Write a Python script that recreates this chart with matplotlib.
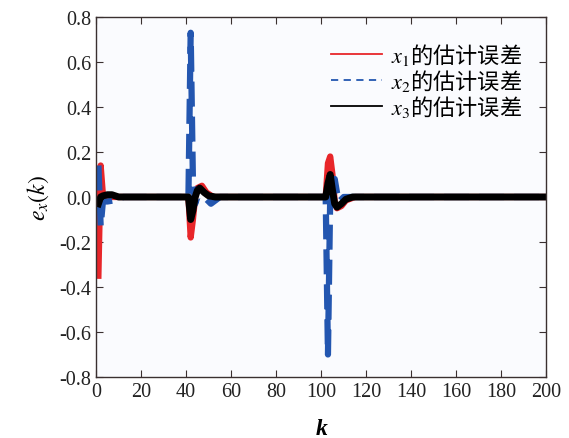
import matplotlib
matplotlib.use('Agg')
import matplotlib.pyplot as plt
from matplotlib.lines import Line2D

plt.rcParams['font.family'] = ['Liberation Serif', 'Noto Sans CJK SC']
plt.rcParams['mathtext.fontset'] = 'stix'
plt.rcParams['axes.unicode_minus'] = True

# x1 的估计误差（红）
k1 = [1, 2, 3, 4, 41, 42, 43, 44, 45, 47, 49, 52, 102, 103, 104, 105, 106, 107, 109, 111, 115, 200]
e1 = [-0.35, 0.14, 0.01, 0.0, 0.0, -0.18, -0.1, 0.0, 0.04, 0.05, 0.02, 0.0,
      0.0, 0.15, 0.18, 0.1, -0.02, -0.05, -0.04, -0.015, 0.0, 0.0]

# x2 的估计误差（蓝，虚线）
k2 = [1, 2, 3, 5, 8, 12, 41, 42, 43, 44, 45, 48, 51, 55, 102, 103, 104, 105, 106, 107, 108, 110, 200]
e2 = [0.14, -0.13, -0.02, -0.02, -0.015, 0.0, 0.0, 0.73, 0.07, -0.03, 0.0, 0.0, -0.03, 0.0,
      0.0, -0.7, 0.0, -0.02, 0.08, 0.02, -0.02, 0.0, 0.0]

# x3 的估计误差（黑）
k3 = [1, 2, 3, 5, 7, 10, 41, 42, 43, 44, 45, 46, 48, 50, 53, 102, 103, 104, 105, 106, 107, 109, 111, 114, 200]
e3 = [-0.03, 0.0, 0.005, 0.01, 0.01, 0.0, 0.0, -0.1, -0.06, 0.0, 0.03, 0.04, 0.02, 0.005, 0.0,
      0.0, 0.06, 0.1, 0.03, -0.03, -0.045, -0.03, -0.01, 0.0, 0.0]

labels = ['$x_1$的估计误差', '$x_2$的估计误差', '$x_3$的估计误差']
xticks = list(range(0, 201, 20))
yticks = [-0.8, -0.6, -0.4, -0.2, 0.0, 0.2, 0.4, 0.6, 0.8]

red, blue, black = '#e8262a', '#2356b0', '#000000'

fig = plt.figure(figsize=(5.69, 4.39), dpi=100)
ax = fig.add_axes([0.169, 0.139, 0.791, 0.82])
ax.set_facecolor('#fafbfe')

ax.plot(k1, e1, color=red, lw=4.5, solid_joinstyle='round')
ax.plot(k2, e2, color=blue, lw=4.5, linestyle=(0, (4, 1.6)))
ax.plot(k3, e3, color=black, lw=5, solid_joinstyle='round')

ax.set_xlim(0, 200)
ax.set_ylim(-0.8, 0.8)
ax.set_xticks(xticks)
ax.set_yticks(yticks)
ax.set_yticklabels(['%.1f' % v for v in yticks])
ax.tick_params(direction='in', top=True, right=True, length=5, labelsize=14.5,
               color='#3a3030', labelcolor='#222222')
for s in ax.spines.values():
    s.set_color('#3a3030')
    s.set_linewidth(1.0)

ax.set_xlabel('k', fontsize=17, fontstyle='italic', fontweight='bold', labelpad=12)
ax.set_ylabel(r'$e_{x}(k)$', fontsize=17, labelpad=6)

handles = [Line2D([], [], color=red, lw=1.3),
           Line2D([], [], color=blue, lw=1.3, linestyle=(0, (4, 3))),
           Line2D([], [], color=black, lw=1.3)]
ax.legend(handles, labels, loc='upper right', frameon=False,
          prop={'family': 'Noto Sans CJK SC', 'size': 16},
          handlelength=2.3, handletextpad=0.4, labelspacing=0.0,
          bbox_to_anchor=(0.99, 0.99))

fig.savefig('out.png', dpi=100)
